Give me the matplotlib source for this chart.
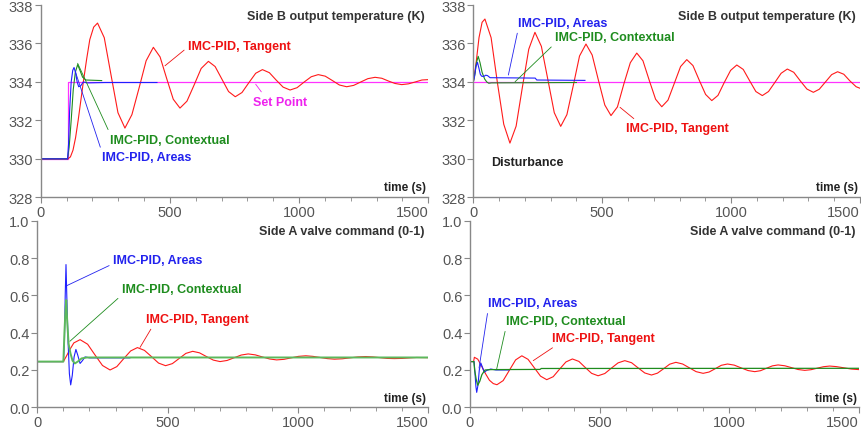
import matplotlib.pyplot as plt
from matplotlib.ticker import MultipleLocator, FormatStrFormatter

plt.rcParams['font.family'] = ['Liberation Sans', 'DejaVu Sans']

# Cores
RED = '#ff1a1a'
BLUE = '#1f1fff'
GREEN = '#1e8c1e'
MAGENTA = '#ff33ff'

x_ticks = [0, 500, 1000, 1500]

# ---------------- Set point response (top left) ----------------
sp_t = [0, 107, 107, 1500]
sp_v = [330, 330, 334, 334]

tan_sp_t = [0, 105, 115, 125, 135, 145, 155, 165, 178, 190, 205, 220,
            246, 273, 299, 326, 353, 381, 408, 436, 462, 487, 513, 539,
            566, 594, 621, 649, 675, 701, 727, 753, 779, 805, 832, 858,
            885, 911, 938, 965, 992, 1020, 1047, 1074, 1101, 1129, 1156, 1184,
            1211, 1239, 1266, 1294, 1320, 1345, 1371, 1397, 1423, 1450, 1475, 1500]
tan_sp_v = [330, 330, 330.1, 330.45, 331.1, 332.0, 333.0, 334.0, 335.2, 336.2, 336.85, 337.06,
            336.3, 334.3, 332.4, 331.6, 332.3, 333.7, 335.1, 335.8, 335.3, 334.2, 333.1, 332.64,
            333.0, 333.85, 334.7, 335.07, 334.8, 334.15, 333.5, 333.23, 333.45, 333.95, 334.45, 334.64,
            334.48, 334.1, 333.73, 333.58, 333.7, 334.0, 334.27, 334.38, 334.3, 334.07, 333.84, 333.75,
            333.82, 334.0, 334.17, 334.24, 334.19, 334.05, 333.92, 333.86, 333.9, 334.0, 334.1, 334.12]

ctx_sp_t = [0, 104, 110, 118, 126, 134, 143, 152, 162, 175, 236]
ctx_sp_v = [330, 330, 330.6, 332.0, 333.6, 334.5, 334.9, 334.6, 334.25, 334.1, 334.07]

are_sp_t = [0, 104, 108, 112, 118, 124, 129, 135, 141, 147, 155, 165, 180, 250, 450]
are_sp_v = [330, 330, 330.8, 332.5, 334.0, 334.6, 334.75, 334.5, 334.0, 333.75, 333.8, 334.0, 333.95, 333.97, 333.97]

# ---------------- Disturbance response (top right) ----------------
sp_d_t = [0, 1500]
sp_d_v = [334, 334]

tan_d_t = [0, 10, 22, 34, 45, 69, 93, 118, 142, 166, 190, 215, 239, 264, 289, 314, 339,
           363, 388, 412, 437, 461, 485, 510, 534, 559, 584, 609, 634, 658, 682, 707, 731,
           755, 780, 804, 828, 852, 876, 901, 925, 949, 973, 998, 1022, 1047, 1071, 1096, 1121,
           1145, 1170, 1194, 1218, 1243, 1268, 1294, 1319, 1342, 1366, 1390, 1413, 1437, 1461, 1485, 1500]
tan_d_v = [334.0, 334.9, 336.3, 337.1, 337.27, 336.3, 334.0, 331.8, 330.82, 331.7, 333.7, 335.7, 336.58,
           335.85, 334.13, 332.4, 331.69, 332.3, 333.83, 335.35, 335.97, 335.4, 334.1, 332.8, 332.25,
           332.7, 333.9, 335.0, 335.5, 335.1, 334.1, 333.1, 332.71, 333.05, 333.94, 334.8, 335.16,
           334.85, 334.1, 333.35, 333.03, 333.3, 333.96, 334.6, 334.88, 334.65, 334.08, 333.5, 333.29,
           333.5, 333.98, 334.45, 334.67, 334.5, 334.06, 333.63, 333.46, 333.62, 334.0, 334.38, 334.53,
           334.4, 334.05, 333.75, 333.67]

ctx_d_t = [0, 6, 12, 19, 26, 34, 44, 52, 60, 70, 400]
ctx_d_v = [334, 334.4, 335.0, 335.33, 335.0, 334.5, 334.15, 334.0, 333.93, 333.95, 333.97]

are_d_t = [0, 5, 10, 16, 22, 27, 32, 40, 48, 55, 65, 240, 246, 433]
are_d_v = [334, 334.3, 334.8, 335.02, 334.7, 334.4, 334.3, 334.28, 334.35, 334.33, 334.22, 334.2, 334.1, 334.08]

# ---------------- Valve command, set point (bottom left) ----------------
tan_vsp_t = [0, 100, 110, 125, 140, 164, 193, 221, 250, 279, 305, 331, 358, 384, 411, 438, 465, 492,
             518, 544, 570, 596, 622, 648, 675, 701, 728, 755, 782, 809, 836, 863, 891, 918,
             946, 974, 1002, 1030, 1057, 1085, 1112, 1140, 1170, 1200, 1230, 1260, 1287, 1315, 1342,
             1370, 1400, 1430, 1455, 1500]
tan_vsp_v = [0.245, 0.245, 0.27, 0.31, 0.345, 0.3625, 0.338, 0.281, 0.224, 0.2, 0.218, 0.26, 0.302, 0.32,
             0.305, 0.2715, 0.237, 0.223, 0.234, 0.2615, 0.289, 0.30, 0.292, 0.2725, 0.253, 0.245,
             0.251, 0.2655, 0.280, 0.286, 0.281, 0.27, 0.259, 0.254, 0.257, 0.265, 0.273, 0.276,
             0.273, 0.267, 0.261, 0.258, 0.260, 0.265, 0.270, 0.272, 0.270, 0.266, 0.262,
             0.261, 0.262, 0.265, 0.267, 0.266]

ctx_vsp_t = [0, 100, 104, 108, 111, 115, 120, 127, 135, 144, 155, 170, 190, 1500]
ctx_vsp_v = [0.245, 0.245, 0.40, 0.52, 0.575, 0.45, 0.34, 0.29, 0.25, 0.235, 0.245, 0.262, 0.267, 0.267]

are_vsp_t = [0, 100, 104, 107, 110, 113, 118, 123, 128, 134, 141, 148, 155, 164, 173, 183, 200, 355]
are_vsp_v = [0.245, 0.245, 0.35, 0.6, 0.765, 0.6, 0.35, 0.18, 0.12, 0.17, 0.27, 0.31, 0.28, 0.235, 0.25, 0.27, 0.265, 0.265]

# ---------------- Valve command, disturbance (bottom right) ----------------
tan_vd_t = [0, 14, 17, 30, 45, 60, 75, 90, 104, 128, 152, 176, 200, 224, 248, 272, 296,
            321, 345, 370, 395, 420, 444, 469, 494, 520, 545, 571, 597, 623, 648, 674, 700,
            723, 747, 770, 794, 820, 846, 872, 899, 922, 946, 969, 993, 1019, 1045, 1072, 1098,
            1120, 1143, 1166, 1188, 1214, 1240, 1265, 1291, 1315, 1339, 1363, 1387, 1413, 1440, 1470, 1500]
tan_vd_v = [0.245, 0.245, 0.268, 0.258, 0.22, 0.18, 0.145, 0.127, 0.121, 0.143, 0.1985, 0.254, 0.276,
            0.257, 0.212, 0.167, 0.148, 0.164, 0.2035, 0.243, 0.259, 0.246, 0.214, 0.182, 0.169,
            0.181, 0.2095, 0.238, 0.25, 0.239, 0.2115, 0.184, 0.173, 0.183, 0.207, 0.231, 0.241,
            0.232, 0.2115, 0.191, 0.182, 0.189, 0.207, 0.225, 0.232, 0.226, 0.2115, 0.197, 0.191,
            0.196, 0.209, 0.222, 0.227, 0.2225, 0.2125, 0.2025, 0.198, 0.2015, 0.2095, 0.2175, 0.221,
            0.218, 0.212, 0.205, 0.202]

ctx_vd_t = [0, 15, 18, 24, 30, 38, 46, 58, 80, 270, 275, 1500]
ctx_vd_v = [0.245, 0.245, 0.2, 0.15, 0.118, 0.14, 0.175, 0.2, 0.202, 0.203, 0.208, 0.209]

are_vd_t = [0, 16, 19, 23, 26, 31, 36, 42, 48, 55, 65, 80, 100, 150]
are_vd_v = [0.245, 0.245, 0.19, 0.11, 0.08, 0.12, 0.2, 0.237, 0.215, 0.188, 0.198, 0.205, 0.2, 0.2]


def estilo(ax, titulo, temp):
    for s in ['top', 'right']:
        ax.spines[s].set_visible(False)
    for s in ['left', 'bottom']:
        ax.spines[s].set_color('#888888')
        ax.spines[s].set_linewidth(1.0)
    ax.set_xlim(0, 1500)
    ax.set_xticks(x_ticks)
    ax.xaxis.set_minor_locator(MultipleLocator(100))
    if temp:
        ax.set_ylim(328, 338)
        ax.yaxis.set_major_locator(MultipleLocator(2))
    else:
        ax.set_ylim(0, 1)
        ax.yaxis.set_major_locator(MultipleLocator(0.2))
        ax.yaxis.set_major_formatter(FormatStrFormatter('%.1f'))
    ax.tick_params(which='major', length=4, color='#888888', labelsize=10.5,
                   labelcolor='#555555', pad=1.5)
    ax.tick_params(which='minor', length=3, color='#888888')
    # o último rótulo (1500) fica encostado à esquerda do tick
    ax.xaxis.get_major_ticks()[-1].label1.set_horizontalalignment('right')
    ax.text(0.99, 0.975, titulo, transform=ax.transAxes, ha='right', va='top',
            fontsize=9, fontweight='bold', color='#333333')
    ax.text(0.995, 0.02, 'time (s)', transform=ax.transAxes, ha='right', va='bottom',
            fontsize=8.5, fontweight='bold', color='#222222')


def rotulo(ax, texto, xy, xytext, cor, rel):
    ax.annotate(texto, xy=xy, xytext=xytext, ha='left', va='center', fontsize=9,
                fontweight='bold', color=cor,
                arrowprops=dict(arrowstyle='-', color=cor, lw=0.6, shrinkA=1, shrinkB=0,
                                relpos=rel))


fig = plt.figure(figsize=(8.62, 4.35), dpi=100)
ax1 = fig.add_axes([0.0472, 0.5441, 0.4497, 0.4421])
ax2 = fig.add_axes([0.5491, 0.5441, 0.4486, 0.4421])
ax3 = fig.add_axes([0.0433, 0.0614, 0.4536, 0.4289])
ax4 = fig.add_axes([0.5452, 0.0614, 0.4513, 0.4289])

# 1. Temperatura - mudança de set point
ax1.plot(sp_t, sp_v, color=MAGENTA, lw=0.9)
ax1.plot(tan_sp_t, tan_sp_v, color=RED, lw=0.8)
ax1.plot(ctx_sp_t, ctx_sp_v, color=GREEN, lw=0.8)
ax1.plot(are_sp_t, are_sp_v, color=BLUE, lw=0.8)
estilo(ax1, 'Side B output temperature (K)', True)
rotulo(ax1, 'IMC-PID, Tangent', (481, 334.84), (570, 335.88), '#ee1111', (0, 0.4))
rotulo(ax1, 'Set Point', (832, 333.88), (823, 332.97), '#ee22ee', (0.2, 1))
rotulo(ax1, 'IMC-PID, Contextual', (143, 334.97), (268, 331.0), '#1e8c1e', (0, 1))
rotulo(ax1, 'IMC-PID, Areas', (133, 334.58), (236, 330.08), '#2222ee', (0, 1))

# 2. Temperatura - perturbação
ax2.plot(sp_d_t, sp_d_v, color=MAGENTA, lw=0.9)
ax2.plot(tan_d_t, tan_d_v, color=RED, lw=0.8)
ax2.plot(ctx_d_t, ctx_d_v, color=GREEN, lw=0.8)
ax2.plot(are_d_t, are_d_v, color=BLUE, lw=0.8)
estilo(ax2, 'Side B output temperature (K)', True)
rotulo(ax2, 'IMC-PID, Areas', (136, 334.36), (174, 337.06), '#2222ee', (0, 0))
rotulo(ax2, 'IMC-PID, Contextual', (162, 334.01), (317, 336.32), '#1e8c1e', (0, 0))
rotulo(ax2, 'IMC-PID, Tangent', (569, 332.68), (592, 331.59), '#ee1111', (0.12, 1))
ax2.text(69, 329.84, 'Disturbance', ha='left', va='center', fontsize=9,
         fontweight='bold', color='#222222')

# 3. Válvula - mudança de set point
ax3.plot(tan_vsp_t, tan_vsp_v, color=RED, lw=0.8)
ax3.plot(are_vsp_t, are_vsp_v, color=BLUE, lw=0.8)
ax3.plot(ctx_vsp_t, ctx_vsp_v, color='#5cb85c', lw=1.4)
estilo(ax3, 'Side A valve command (0-1)', False)
rotulo(ax3, 'IMC-PID, Areas', (113, 0.652), (291, 0.789), '#2222ee', (0, 0.2))
rotulo(ax3, 'IMC-PID, Contextual', (125, 0.354), (324, 0.634), '#1e8c1e', (0, 0))
rotulo(ax3, 'IMC-PID, Tangent', (394, 0.321), (417, 0.472), '#ee1111', (0.07, 0))

# 4. Válvula - perturbação
ax4.plot(tan_vd_t, tan_vd_v, color=RED, lw=0.8)
ax4.plot(are_vd_t, are_vd_v, color=BLUE, lw=0.8)
ax4.plot(ctx_vd_t, ctx_vd_v, color=GREEN, lw=0.9)
estilo(ax4, 'Side A valve command (0-1)', False)
rotulo(ax4, 'IMC-PID, Areas', (35, 0.21), (70, 0.557), '#2222ee', (0, 0))
rotulo(ax4, 'IMC-PID, Contextual', (103, 0.205), (139, 0.461), '#1e8c1e', (0, 0))
rotulo(ax4, 'IMC-PID, Tangent', (244, 0.25), (315, 0.37), '#ee1111', (0.06, 0))

plt.savefig('out.png', dpi=100)
